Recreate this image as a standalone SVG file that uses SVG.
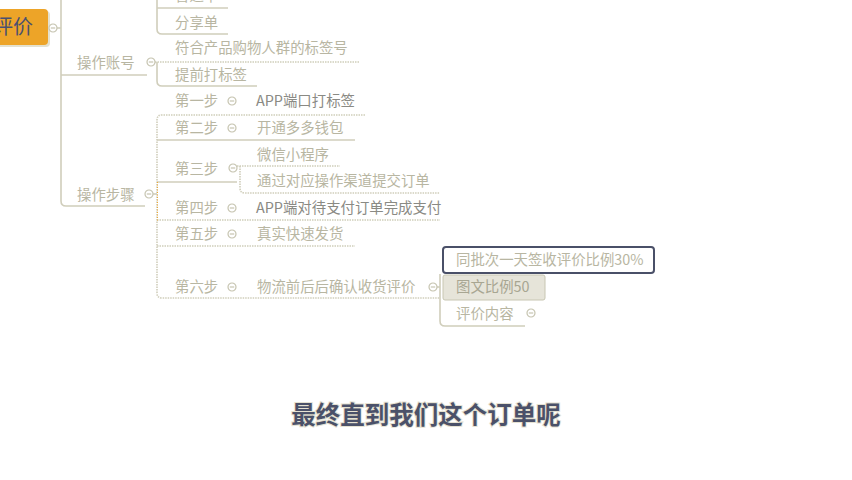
<svg xmlns="http://www.w3.org/2000/svg" width="852" height="480" viewBox="0 0 852 480">
<style>
.t{font-family:"Noto Sans CJK SC","Noto Sans",sans-serif;font-size:14.4px;fill:#b8b6a2}
.d{fill:#8a8a84}
.ln{fill:none;stroke:#d0cebb;stroke-width:1.6}
.dt{fill:none;stroke:#d0cebb;stroke-width:1.6;stroke-dasharray:1.5 1}
.c{fill:#fff;stroke:#c6c4b0;stroke-width:1.2}
.m{stroke:#c6c4b0;stroke-width:1.2}
</style>
<defs>
<g id="col"><circle class="c" r="4"/><line class="m" x1="-2.2" y1="0" x2="2.2" y2="0"/></g>
</defs>
<rect width="852" height="480" fill="#fff"/>
<g id="connectors">
<path class="ln" d="M57 28H61"/>
<path class="ln" d="M61 0V201Q61 206 66 206H145"/>
<path class="ln" d="M61 75H147"/>
<path class="ln" d="M157 0V29Q157 34 162 34H228"/>
<path class="ln" d="M157 8H228"/>
<path class="dt" d="M155 62H360"/>
<path class="ln" d="M157 62V81Q157 86 162 86H257"/>
<path class="ln" d="M153 194H157"/>
<path class="dt" d="M365 115H162Q157 115 157 120V293Q157 298 162 298H440"/>
<path class="ln" d="M157 140H355"/>
<path class="ln" d="M157 182H237"/>
<path class="dt" d="M157 220H440"/>
<path class="dt" d="M157 246H355"/>
<path class="dt" d="M237 166H340"/>
<path class="dt" d="M240 166V188Q240 193 245 193H440"/>
<path class="ln" d="M437 287H440"/>
<path class="ln" d="M440 274V321Q440 326 445 326H525"/>
<path d="M157.5 182V222" fill="none" stroke="#f0a830" stroke-width="1" stroke-dasharray="1 1.5"/>
</g>
<g id="root">
<rect x="-8" y="11" width="58" height="36" rx="4" fill="#e4e1cf"/>
<rect x="-10" y="9" width="58" height="36" rx="4" fill="#eda428"/>
<text x="-7" y="34" style="font-family:'Noto Sans CJK SC',sans-serif;font-size:20px;fill:#4a5070">评价</text>
<use href="#col" x="53" y="28"/>
</g>
<g id="n-top"><text class="t" x="175" y="1">普通单</text></g>
<g id="n-fenxiang"><text class="t" x="175" y="28">分享单</text></g>
<g id="n-zhanghao"><text class="t" x="77" y="68">操作账号</text><use href="#col" x="151" y="62"/></g>
<g id="n-fuhe"><text class="t" x="175" y="53">符合产品购物人群的标签号</text></g>
<g id="n-tiqian"><text class="t" x="175" y="80">提前打标签</text></g>
<g id="n-buzhou"><text class="t" x="77" y="200">操作步骤</text><use href="#col" x="149" y="194"/></g>
<g id="n-s1"><text class="t" x="175" y="106">第一步</text><use href="#col" x="232" y="101"/><text class="t d" x="256" y="106">APP端口打标签</text></g>
<g id="n-s2"><text class="t" x="175" y="133">第二步</text><use href="#col" x="232" y="128"/><text class="t" x="257" y="133">开通多多钱包</text></g>
<g id="n-s3"><text class="t" x="175" y="174">第三步</text><use href="#col" x="233" y="168"/></g>
<g id="n-weixin"><text class="t" x="257" y="160">微信小程序</text></g>
<g id="n-tongguo"><text class="t" x="257" y="186">通过对应操作渠道提交订单</text></g>
<g id="n-s4"><text class="t" x="175" y="213">第四步</text><use href="#col" x="232" y="208"/><text class="t d" x="256" y="213">APP端对待支付订单完成支付</text></g>
<g id="n-s5"><text class="t" x="175" y="239">第五步</text><use href="#col" x="232" y="234"/><text class="t" x="257" y="239">真实快速发货</text></g>
<g id="n-s6"><text class="t" x="175" y="292">第六步</text><use href="#col" x="232" y="287"/><text class="t" x="257" y="292">物流前后后确认收货评价</text><use href="#col" x="433" y="287"/></g>
<g id="n-tongpi"><rect x="443" y="247" width="211" height="26" rx="3" fill="#fff" stroke="#4a5068" stroke-width="2"/><text class="t" x="456" y="265">同批次一天签收评价比例30%</text></g>
<g id="n-tuwen"><rect x="443" y="275" width="102" height="25" rx="2" fill="#e6e4d9" stroke="#c8c6b2" stroke-width="1"/><text class="t" x="456" y="292" style="fill:#a8a692">图文比例50</text></g>
<g id="n-pingjia"><text class="t" x="456" y="319">评价内容</text><use href="#col" x="531" y="313"/></g>
<g id="subtitle"><text x="426" y="424" text-anchor="middle" style="font-family:'Noto Sans CJK SC',sans-serif;font-size:24.5px;font-weight:bold;fill:#4b5169;stroke:#e6e2d2;stroke-width:2;paint-order:stroke">最终直到我们这个订单呢</text></g>
</svg>
